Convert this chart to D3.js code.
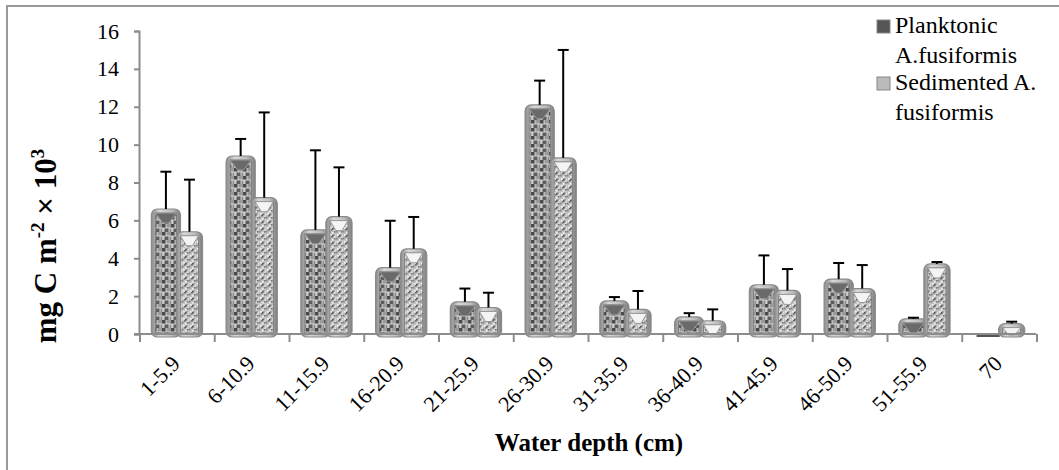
<!DOCTYPE html>
<html>
<head>
<meta charset="utf-8">
<script src="https://cdn.jsdelivr.net/npm/d3@7"></script>
<style>
  body { margin: 0; background: #fff; }
  svg text { font-family: "Liberation Serif", "Times New Roman", Tinos, "DejaVu Serif", serif !important; }
</style>
</head>
<body>
<div id="chart"></div>
<script>
// data
const categories = ["1-5.9", "6-10.9", "11-15.9", "16-20.9", "21-25.9", "26-30.9", "31-35.9", "36-40.9", "41-45.9", "46-50.9", "51-55.9", "70"]
const planktonic = [6.6, 9.4, 5.5, 3.5, 1.7, 12.1, 1.75, 0.9, 2.6, 2.9, 0.8, 0.03]
const planktonicErr = [1.97, 0.9, 4.2, 2.48, 0.7, 1.28, 0.2, 0.2, 1.55, 0.85, 0.06, 0]
const sedimented = [5.4, 7.2, 6.2, 4.5, 1.4, 9.3, 1.3, 0.7, 2.3, 2.4, 3.7, 0.55]
const sedimentedErr = [2.75, 4.5, 2.6, 1.68, 0.78, 5.7, 0.97, 0.6, 1.13, 1.24, 0.1, 0.1]
const yTicks = [0, 2, 4, 6, 8, 10, 12, 14, 16]

//dimensions
const width = 1059, height = 470
const margin = {top: 31, right: 23, bottom: 136, left: 139}

const svg = d3.select("#chart").append("svg")
    .attr("width", width)
    .attr("height", height)

// patterns
const defs = svg.append("defs")
const side = defs.append("linearGradient").attr("id", "side")
side.append("stop").attr("offset", "0%").attr("stop-color", "#8a8a8a")
side.append("stop").attr("offset", "30%").attr("stop-color", "#d8d8d8")
side.append("stop").attr("offset", "70%").attr("stop-color", "#bdbdbd")
side.append("stop").attr("offset", "100%").attr("stop-color", "#7d7d7d")

const brick = defs.append("pattern").attr("id", "brick")
    .attr("patternUnits", "userSpaceOnUse").attr("width", 9).attr("height", 8)
const brickCells = [
    [0, 0, 4, 4, "#4a4a4a"], [4, 0, 5, 4, "#9a9a9a"],
    [0, 4, 2, 4, "#bdbdbd"], [2, 4, 5, 4, "#5e5e5e"], [7, 4, 2, 4, "#8c8c8c"]
]
brickCells.forEach(c => brick.append("rect")
    .attr("x", c[0]).attr("y", c[1]).attr("width", c[2]).attr("height", c[3]).attr("fill", c[4]))
brick.append("path").attr("d", "M0,4H9M4,0V4M2,4V8M7,4V8")
    .attr("stroke", "#e6e6e6").attr("stroke-width", 0.8)

const speck = defs.append("pattern").attr("id", "speck")
    .attr("patternUnits", "userSpaceOnUse").attr("width", 7).attr("height", 7)
speck.append("rect").attr("width", 7).attr("height", 7).attr("fill", "#c4c4c4")
const speckCells = [
    [0, 0, "#888"], [3, 1, "#eee"], [5, 0, "#777"], [1, 3, "#f2f2f2"], [4, 3, "#999"],
    [6, 4, "#e0e0e0"], [2, 5, "#6e6e6e"], [5, 6, "#ddd"], [0, 6, "#a5a5a5"], [3, 4, "#555"]
]
speckCells.forEach(c => speck.append("rect")
    .attr("x", c[0]).attr("y", c[1]).attr("width", 1.6).attr("height", 1.6).attr("fill", c[2]))

// frame
svg.append("path")
    .attr("d", "M7," + height + "V6H" + width)
    .attr("fill", "none").attr("stroke", "#9a9a9a").attr("stroke-width", 2)

//scales
const xScale = d3.scaleBand()
    .domain(categories)
    .range([margin.left, width - margin.right])
const yScale = d3.scaleLinear()
    .domain([0, 16])
    .range([height - margin.bottom, margin.top])
const bw = xScale.bandwidth()

// series layout inside each band
const series = [
    {name: "planktonic", values: planktonic, errors: planktonicErr, fill: "url(#brick)", x0: -0.335, w: 0.39},
    {name: "sedimented", values: sedimented, errors: sedimentedErr, fill: "url(#speck)", x0: 0.0, w: 0.35}
]

// axes
const axisColor = "#8c8c8c"
const yAxis = svg.append("g")
    .attr("transform", "translate(" + margin.left + ",0)")
    .call(d3.axisLeft(yScale).tickValues(yTicks).tickSize(5).tickPadding(15).tickFormat(d3.format("d")))
yAxis.attr("font-family", null)
yAxis.select(".domain").attr("stroke", axisColor).attr("stroke-width", 2)
yAxis.selectAll(".tick line").attr("stroke", axisColor).attr("stroke-width", 2)
yAxis.selectAll(".tick text")
    .attr("font-size", 22).attr("fill", "#000")

// draw bars
const bottom = yScale(0) + 3
series.forEach(s => {
    const g = svg.append("g")
    categories.forEach((c, i) => {
        const cx = xScale(c) + bw / 2
        const x = cx + s.x0 * bw
        const w = s.w * bw
        const top = Math.min(yScale(s.values[i]), bottom - 1)
        const h = bottom - top
        if (h < 5) {
            g.append("rect").attr("x", x + 3).attr("y", top).attr("width", w - 6).attr("height", h)
                .attr("fill", "#555")
            return
        }
        g.append("rect").attr("x", x).attr("y", top).attr("width", w).attr("height", h)
            .attr("rx", 6).attr("fill", "url(#side)").attr("stroke", "#8a8a8a").attr("stroke-width", 1.2)
        g.append("rect").attr("x", x + 4).attr("y", top + 4).attr("width", w - 8).attr("height", Math.max(h - 8, 0))
            .attr("fill", s.fill).attr("stroke", "#777").attr("stroke-width", 0.8)
        // bevel cap
        const capH = Math.min(10, h - 6)
        g.append("path")
            .attr("d", "M" + (x + 4) + "," + (top + 4) + "H" + (x + w - 4) +
                "L" + (x + w / 2 + 3) + "," + (top + 4 + capH) + "H" + (x + w / 2 - 3) + "Z")
            .attr("fill", s.name === "planktonic" ? "#6a6a6a" : "#f4f4f4")
            .attr("stroke", "#9a9a9a").attr("stroke-width", 1)
    })
    // error bars
    categories.forEach((c, i) => {
        if (s.errors[i] <= 0) return
        const ex = xScale(c) + bw / 2 + (s.x0 + s.w / 2) * bw
        const y1 = yScale(s.values[i])
        const y2 = yScale(s.values[i] + s.errors[i])
        g.append("line").attr("x1", ex).attr("x2", ex).attr("y1", y1).attr("y2", y2)
            .attr("stroke", "#000").attr("stroke-width", 2)
        g.append("line").attr("x1", ex - 5.5).attr("x2", ex + 5.5).attr("y1", y2).attr("y2", y2)
            .attr("stroke", "#000").attr("stroke-width", 2)
    })
})

// x axis
const xAxis = svg.append("g")
    .attr("transform", "translate(0," + yScale(0) + ")")
xAxis.append("line")
    .attr("x1", margin.left - 5).attr("x2", width - margin.right)
    .attr("stroke", axisColor).attr("stroke-width", 2)
xAxis.selectAll(".xtick")
    .data(categories.concat(["end"]))
    .join("line")
    .attr("x1", (d, i) => margin.left + i * bw + 1)
    .attr("x2", (d, i) => margin.left + i * bw + 1)
    .attr("y1", 0).attr("y2", 8)
    .attr("stroke", axisColor).attr("stroke-width", 2)
xAxis.selectAll(".xlabel")
    .data(categories)
    .join("text")
    .attr("transform", d => "translate(" + (xScale(d) + bw / 2 + 5) + ",31) rotate(-45)")
    .attr("text-anchor", "end")
    .attr("font-size", 22)
    .text(d => d)

// axis titles
svg.append("text")
    .attr("x", 589).attr("y", 451)
    .attr("text-anchor", "middle")
    .attr("font-size", 25).attr("font-weight", "bold")
    .text("Water depth (cm)")

const yTitle = svg.append("text")
    .attr("transform", "translate(56,246) rotate(-90)")
    .attr("text-anchor", "middle")
    .attr("font-size", 31).attr("font-weight", "bold")
yTitle.append("tspan").text("mg C m")
yTitle.append("tspan").attr("font-size", 19).attr("dy", -12).text("-2")
yTitle.append("tspan").attr("dy", 12).text(" × 10")
yTitle.append("tspan").attr("font-size", 19).attr("dy", -12).text("3")

// legend
const legendItems = [
    {lines: ["Planktonic", "A.fusiformis"], color: "#555", y: 20},
    {lines: ["Sedimented A.", "fusiformis"], color: "#bbb", y: 77}
]
const legend = svg.append("g")
legendItems.forEach(item => {
    legend.append("rect")
        .attr("x", 877).attr("y", item.y).attr("width", 13).attr("height", 13)
        .attr("fill", item.color).attr("stroke", "#888").attr("stroke-width", 1)
    item.lines.forEach((l, j) => {
        legend.append("text")
            .attr("x", 895).attr("y", item.y + 13 + j * 30)
            .attr("font-size", 24)
            .text(l)
    })
})
</script>
</body>
</html>
